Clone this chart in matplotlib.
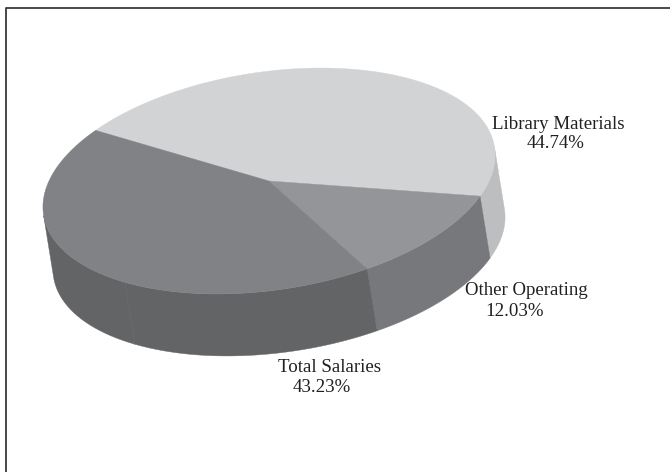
import numpy as np
import matplotlib
matplotlib.use("Agg")
import matplotlib.pyplot as plt

# data
labels = ["Library Materials", "Other Operating", "Total Salaries"]
shares = [44.74, 12.03, 43.23]
top_colors = ["#D1D3D4", "#939598", "#808285"]
side_colors = ["#BCBEC0", "#77787B", "#636466"]
name_pos = [(558, 124.5), (526, 290.5), (329, 367.5)]
value_pos = [(556, 144), (515, 312), (322, 388)]

# geometry of the tilted disc, in pixels
cx, cy = 269, 181
semi_a, semi_b = 228, 109
tilt = np.radians(8.5)
depth_x, depth_y = 10, 62
start_angle = 136
seam_angle = -133.7


def rim(deg):
    t = np.radians(deg)
    u = semi_a * np.cos(t)
    v = semi_b * np.sin(t)
    x = cx + u * np.cos(tilt) - v * np.sin(tilt)
    y = cy - (u * np.sin(tilt) + v * np.cos(tilt))
    return x, y


fig = plt.figure(figsize=(6.70, 4.72), dpi=100)
ax = fig.add_axes([0, 0, 1, 1])
ax.set_xlim(0, 670)
ax.set_ylim(472, 0)
ax.axis("off")

# work out the slice angles
spans = np.array(shares) / sum(shares) * 360
ends = start_angle - np.cumsum(spans)
starts = ends + spans

# sides first, only the part of the rim that faces us
for a0, a1, col in zip(starts, ends, side_colors):
    ang = np.linspace(a0, a1, 400)
    x0, y0 = rim(ang - 0.5)
    x1, y1 = rim(ang + 0.5)
    front = (x1 - x0) * depth_y - (y1 - y0) * depth_x > 0
    x, y = rim(ang[front])
    ax.fill(np.r_[x, x[::-1] + depth_x], np.r_[y, y[::-1] + depth_y],
            color=col, lw=0.3, zorder=2)

sx, sy = rim(seam_angle)
ax.plot([sx, sx + depth_x], [sy, sy + depth_y], color="#6B6C6E", lw=0.5, zorder=3)

for a0, a1, col in zip(starts, ends, top_colors):
    x, y = rim(np.linspace(a0, a1, 200))
    ax.fill(np.r_[cx, x], np.r_[cy, y], color=col, lw=0.3, zorder=4)

txt = dict(ha="center", va="center", family="Liberation Serif", fontsize=13.6,
           color="#231F20", zorder=5)
for name, val, np_, vp in zip(labels, shares, name_pos, value_pos):
    ax.text(np_[0], np_[1], name, **txt)
    ax.text(vp[0], vp[1], f"{val:.2f}%", **txt)

# the frame only has a top and a left line
ax.plot([670, 6, 6], [8, 8, 472], color="#3A3A3C", lw=1.3, zorder=6)

fig.savefig("out.png", dpi=100)
